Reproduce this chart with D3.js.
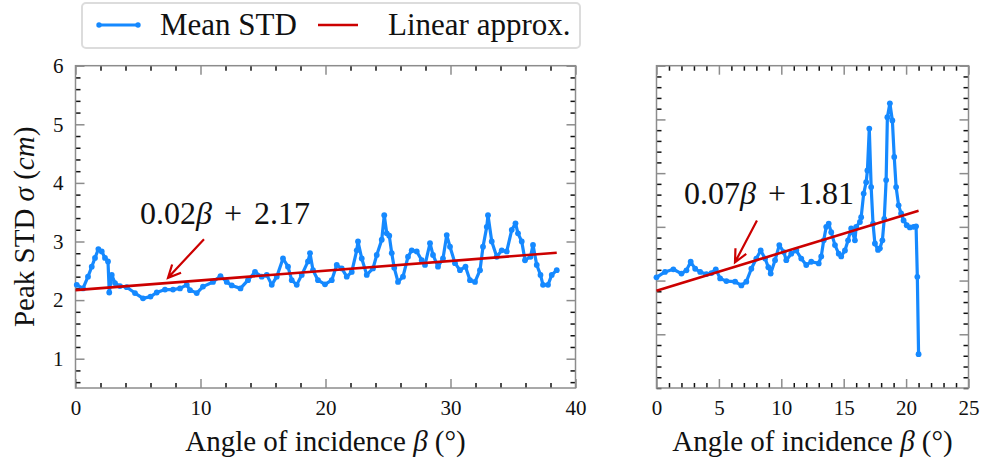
<!DOCTYPE html>
<html>
<head>
<meta charset="utf-8">
<script src="https://cdn.jsdelivr.net/npm/d3@7"></script>
<style>
  body { margin: 0; background: #fff; }
  text { font-family: "Liberation Serif", "Times New Roman", serif; fill: #111; }
</style>
</head>
<body>
<div id="vis"></div>
<script>

// datos
const betaLeft = [0.1, 0.6, 1.0, 1.3, 1.56, 1.83, 2.1, 2.36, 2.6, 2.7, 2.9, 3.16, 3.56, 4.1, 4.76, 5.4, 6.0, 6.5, 7.16, 7.8,
  8.36, 8.9, 9.16, 9.7, 10.2, 11.0, 11.6, 12.1, 12.5, 13.2, 13.8, 14.36, 14.9, 15.3, 15.7, 16.1, 16.6, 17.0, 17.3, 17.7,
  18.1, 18.6, 18.76, 19.0, 19.4, 19.96, 20.5, 20.9, 21.3, 21.7, 22.1, 22.5, 22.6, 22.9, 23.3, 23.8, 24.1, 24.5, 24.7, 24.9,
  25.1, 25.3, 25.5, 25.8, 26.2, 26.6, 26.9, 27.3, 27.7, 27.96, 28.36, 28.6, 29.0, 29.4, 29.7, 29.96, 30.36, 30.76, 31.2, 31.56,
  31.96, 32.36, 32.6, 32.9, 33.0, 33.3, 33.7, 34.1, 34.5, 34.9, 35.2, 35.4, 35.7, 35.96, 36.4, 36.6, 36.9, 37.2, 37.4, 37.8,
  38.1, 38.5];
const stdLeft = [2.26, 2.2, 2.4, 2.57, 2.72, 2.87, 2.83, 2.72, 2.66, 2.13, 2.43, 2.29, 2.24, 2.22, 2.12, 2.03, 2.06, 2.13, 2.18, 2.18,
  2.2, 2.26, 2.17, 2.12, 2.23, 2.31, 2.41, 2.31, 2.25, 2.2, 2.34, 2.48, 2.4, 2.43, 2.26, 2.4, 2.71, 2.57, 2.34, 2.26,
  2.43, 2.66, 2.8, 2.51, 2.34, 2.27, 2.34, 2.6, 2.54, 2.4, 2.48, 2.85, 3.0, 2.71, 2.43, 2.54, 2.77, 3.03, 3.45, 3.14,
  3.1, 2.8, 2.55, 2.31, 2.4, 2.74, 2.85, 2.83, 2.68, 2.6, 2.97, 2.77, 2.57, 2.71, 3.11, 2.91, 2.63, 2.51, 2.57, 2.34,
  2.31, 2.51, 2.91, 3.25, 3.45, 3.0, 2.74, 2.85, 2.83, 3.2, 3.31, 3.14, 3.0, 2.68, 2.74, 2.94, 2.6, 2.43, 2.26, 2.26,
  2.43, 2.51];

const betaRight = [0.0, 0.68, 1.35, 2.0, 2.4, 2.74, 3.1, 3.5, 4.0, 4.4, 4.75, 5.1, 5.6, 6.3, 6.8, 7.2, 7.6, 8.0, 8.35, 8.7,
  8.96, 9.15, 9.5, 9.84, 10.2, 10.4, 10.8, 11.2, 11.6, 12.0, 12.4, 13.0, 13.2, 13.4, 13.6, 13.8, 14.0, 14.3, 14.6, 14.8,
  15.1, 15.35, 15.6, 15.9, 16.0, 16.3, 16.4, 16.6, 16.8, 16.9, 17.05, 17.2, 17.35, 17.5, 17.75, 17.9, 18.1, 18.25, 18.4, 18.5,
  18.7, 18.9, 19.05, 19.2, 19.4, 19.6, 19.8, 20.05, 20.3, 20.6, 20.8, 20.9, 21.0];
const stdRight = [2.06, 2.16, 2.21, 2.13, 2.19, 2.35, 2.22, 2.16, 2.12, 2.14, 2.21, 2.04, 1.99, 1.98, 1.91, 1.98, 2.22, 2.41, 2.56, 2.41,
  2.25, 2.13, 2.38, 2.66, 2.53, 2.38, 2.5, 2.56, 2.41, 2.29, 2.35, 2.32, 2.45, 2.75, 3.0, 3.06, 2.9, 2.66, 2.5, 2.45,
  2.56, 2.75, 2.97, 2.75, 3.0, 3.09, 3.18, 3.62, 3.83, 4.05, 4.83, 3.74, 3.06, 2.69, 2.57, 2.6, 2.75, 3.15, 3.87, 5.04,
  5.3, 4.98, 4.3, 3.74, 3.4, 3.25, 3.12, 3.03, 2.99, 3.0, 3.01, 2.07, 0.63];

// ajuste lineal (pendiente, intercepto) y su etiqueta
const fitLeft = [0.0166, 2.17];
const fitRight = [0.071, 1.81];
const fitLabelLeft = ["0.02", "β", "+", "2.17"];
const fitLabelRight = ["0.07", "β", "+", "1.81"];

const xTicksLeft = [0, 10, 20, 30, 40];
const xTicksRight = [0, 5, 10, 15, 20, 25];
const yTicks = [1, 2, 3, 4, 5, 6];

const legendLabels = ["Mean STD", "Linear approx."];

const WIDTH = 986;
const HEIGHT = 461;
const BLUE = "#1589ff";
const RED = "#cc0000";
const SPINE = "#8c8c8c";

const SVG = d3.select("#vis").append("svg")
  .attr("width", WIDTH)
  .attr("height", HEIGHT);

const TOP = 65.7;
const BOTTOM = 388;

const xLeft = d3.scaleLinear().domain([0, 40]).range([75.5, 575.5]);
const yLeft = d3.scaleLinear().domain([0.5, 6]).range([BOTTOM, TOP]);
const xRight = d3.scaleLinear().domain([0, 25]).range([656.5, 968.5]);
const yRight = d3.scaleLinear().domain([0, 6]).range([BOTTOM, TOP]);

function minorTicks(scale, step, majors) {
  const [a, b] = scale.domain();
  return d3.range(Math.ceil(a / step - 1e-9) * step, b + 1e-9, step)
    .filter(v => !majors.some(m => Math.abs(m - v) < 1e-6));
}

function crearPanel(escalaX, escalaY, xMajors, xStep, yStep, showYLabels) {
  const g = SVG.append("g");
  const [x0, x1] = escalaX.range();
  const yMajors = yTicks.filter(v => v >= escalaY.domain()[0] && v <= escalaY.domain()[1]);
  const xMinors = minorTicks(escalaX, xStep, xMajors);
  const yMinors = minorTicks(escalaY, yStep, yMajors);

  const ejes = [
    [d3.axisBottom, escalaX, `translate(0,${BOTTOM})`, xMajors, xMinors, true],
    [d3.axisTop, escalaX, `translate(0,${TOP})`, xMajors, xMinors, false],
    [d3.axisLeft, escalaY, `translate(${x0},0)`, yMajors, yMinors, showYLabels],
    [d3.axisRight, escalaY, `translate(${x1},0)`, yMajors, yMinors, false]
  ];

  ejes.forEach(([tipoEje, escala, tr, majors, minors, labels]) => {
    const gm = g.append("g").attr("transform", tr)
      .call(tipoEje(escala).tickValues(minors).tickSize(-5).tickFormat(""));
    gm.select(".domain").remove();
    gm.selectAll("line").attr("stroke", "#111").attr("stroke-width", 1.5);

    const ejeMayor = tipoEje(escala).tickValues(majors).tickSize(-9).tickPadding(12)
      .tickFormat(labels ? d3.format("d") : "");
    const gM = g.append("g").attr("transform", tr).call(ejeMayor);
    gM.select(".domain").remove();
    gM.selectAll("line").attr("stroke", SPINE).attr("stroke-width", 1.5);
    gM.selectAll("text")
      .attr("fill", "#111")
      .style("font-family", '"Liberation Serif", serif')
      .style("font-size", "21px");
  });

  g.append("rect")
    .attr("x", x0)
    .attr("y", TOP)
    .attr("width", x1 - x0)
    .attr("height", BOTTOM - TOP)
    .attr("fill", "none")
    .attr("stroke", SPINE)
    .attr("stroke-width", 1.5);

  g.append("text")
    .attr("x", (x0 + x1) / 2)
    .attr("y", 451)
    .attr("text-anchor", "middle")
    .style("font-size", "29px")
    .html('Angle of incidence <tspan font-style="italic">β</tspan> (°)');

  return g;
}

function dibujarSerie(g, escalaX, escalaY, betas, valores, fit, etiqueta, textPos, flecha) {
  const datos = betas.map((b, i) => ({ beta: b, std: valores[i] }));

  const linea = d3.line()
    .x(d => escalaX(d.beta))
    .y(d => escalaY(d.std));

  g.append("path")
    .datum(datos)
    .attr("d", linea)
    .attr("fill", "none")
    .attr("stroke", BLUE)
    .attr("stroke-width", 3.2)
    .attr("stroke-linejoin", "round");

  g.selectAll(".punto")
    .data(datos)
    .join("circle")
    .attr("class", "punto")
    .attr("cx", d => escalaX(d.beta))
    .attr("cy", d => escalaY(d.std))
    .attr("r", 2.9)
    .attr("fill", BLUE);

  const bMax = d3.max(betas);
  const recta = [0, bMax].map(b => ({ beta: b, std: fit[0] * b + fit[1] }));
  g.append("path")
    .datum(recta)
    .attr("d", linea)
    .attr("stroke", RED)
    .attr("stroke-width", 2.6)
    .attr("fill", "none");

  const t = g.append("text")
    .attr("x", escalaX(textPos[0]))
    .attr("y", escalaY(textPos[1]))
    .style("font-size", "32px");
  t.append("tspan").text(etiqueta[0]);
  t.append("tspan").attr("font-style", "italic").text(etiqueta[1]);
  t.append("tspan").attr("dx", 12).text(etiqueta[2]);
  t.append("tspan").attr("dx", 12).text(etiqueta[3]);

  // flecha: [cola, punta] en coordenadas de datos
  const [cx, cy] = [escalaX(flecha[0][0]), escalaY(flecha[0][1])];
  const [px, py] = [escalaX(flecha[1][0]), escalaY(flecha[1][1])];
  const ang = Math.atan2(py - cy, px - cx);
  const largo = 14;
  const abre = 0.45;
  const h1 = [px - largo * Math.cos(ang - abre), py - largo * Math.sin(ang - abre)];
  const h2 = [px - largo * Math.cos(ang + abre), py - largo * Math.sin(ang + abre)];

  g.append("path")
    .attr("d", `M${cx},${cy}L${px},${py}M${h1[0]},${h1[1]}L${px},${py}L${h2[0]},${h2[1]}`)
    .attr("stroke", RED)
    .attr("stroke-width", 2.2)
    .attr("fill", "none");
}

const panelIzq = crearPanel(xLeft, yLeft, xTicksLeft, 2, 0.2, true);
const panelDer = crearPanel(xRight, yRight, xTicksRight, 1, 0.2, false);

dibujarSerie(panelIzq, xLeft, yLeft, betaLeft, stdLeft, fitLeft, fitLabelLeft,
  [5.16, 3.3], [[10.28, 3.04], [7.4, 2.38]]);
dibujarSerie(panelDer, xRight, yRight, betaRight, stdRight, fitRight, fitLabelRight,
  [2.2, 3.42], [[8.05, 3.12], [6.29, 2.34]]);

// etiqueta eje y
SVG.append("text")
  .attr("transform", `translate(34, ${(TOP + BOTTOM) / 2}) rotate(-90)`)
  .attr("text-anchor", "middle")
  .style("font-size", "29px")
  .html('Peak STD <tspan font-style="italic">σ</tspan> (<tspan font-style="italic">cm</tspan>)');

// leyenda
const leyenda = SVG.append("g");
leyenda.append("rect")
  .attr("x", 82)
  .attr("y", 3)
  .attr("width", 498)
  .attr("height", 45)
  .attr("rx", 4)
  .attr("fill", "#fff")
  .attr("stroke", "#dcdcdc")
  .attr("stroke-width", 2);

leyenda.append("line")
  .attr("x1", 99).attr("x2", 138).attr("y1", 25).attr("y2", 25)
  .attr("stroke", BLUE).attr("stroke-width", 3.2);
leyenda.selectAll(".ldot")
  .data([99, 138])
  .join("circle")
  .attr("class", "ldot")
  .attr("cx", d => d)
  .attr("cy", 25)
  .attr("r", 2.7)
  .attr("fill", BLUE);
leyenda.append("text")
  .attr("x", 160).attr("y", 35)
  .style("font-size", "31px")
  .text(legendLabels[0]);

leyenda.append("line")
  .attr("x1", 318).attr("x2", 358).attr("y1", 25).attr("y2", 25)
  .attr("stroke", RED).attr("stroke-width", 2.6);
leyenda.append("text")
  .attr("x", 388).attr("y", 35)
  .style("font-size", "31px")
  .text(legendLabels[1]);

</script>
</body>
</html>
